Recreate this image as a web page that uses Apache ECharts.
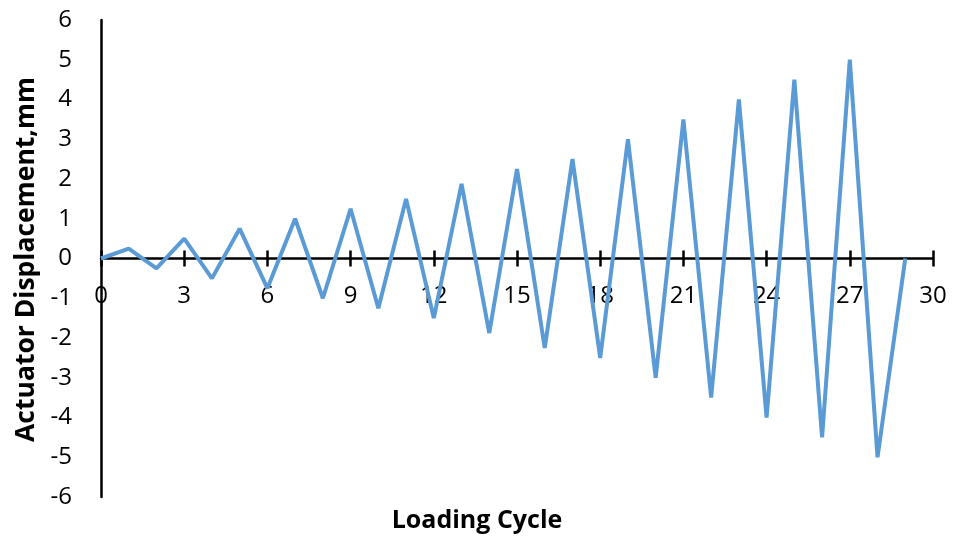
<!DOCTYPE html>
<html><head><meta charset="utf-8">
<script src="https://cdn.jsdelivr.net/npm/echarts@6/dist/echarts.min.js"></script>
<style>html,body{margin:0;padding:0;background:#fff}#c{width:954px;height:543px}</style>
</head><body><div id="c"></div>
<script>
const cycles = [0,1,2,3,4,5,6,7,8,9,10,11,12,13,14,15,16,17,18,19,20,21,22,23,24,25,26,27,28,29];
const displacement = [0,0.25,-0.25,0.5,-0.5,0.75,-0.75,1,-1,1.25,-1.25,1.5,-1.5,1.875,-1.875,2.25,-2.25,2.5,-2.5,3,-3,3.5,-3.5,4,-4,4.5,-4.5,5,-5,0];
const xTitle = 'Loading Cycle';
const yTitle = 'Actuator Displacement,mm';
const font = '"Open Sans", "Liberation Sans", sans-serif';
const G = {left: 101, right: 21, top: 20, bottom: 46};
const H = 543 - G.top - G.bottom;
const chart = echarts.init(document.getElementById('c'));
const tickStyle = {color: '#000', width: 2.5};
chart.setOption({
  animation: false,
  grid: Object.assign({containLabel: false, outerBoundsMode: 'none'}, G),
  graphic: [
    {type: 'text', left: 'center', x: 0, top: 508,
     style: {text: xTitle, font: 'bold 25px ' + font, fill: '#000'}, silent: true},
    {type: 'text', x: 26, y: 259.5, rotation: Math.PI / 2,
     style: {text: yTitle, font: 'bold 26.5px ' + font, fill: '#000', align: 'center', verticalAlign: 'middle'}, silent: true}
  ],
  xAxis: [
    {
      type: 'value', min: 0, max: 30, interval: 3, position: 'bottom', offset: -(H / 2),
      splitLine: {show: false},
      axisLine: {onZero: false, lineStyle: {color: '#000', width: 2.5}},
      axisTick: {inside: false, length: 8, lineStyle: tickStyle},
      axisLabel: {margin: 26, fontFamily: font, fontSize: 24, color: '#000', showMinLabel: true, showMaxLabel: true}
    },
    {
      type: 'value', min: 0, max: 30, interval: 3, position: 'top', offset: -(H / 2),
      splitLine: {show: false},
      axisLine: {show: false, onZero: false},
      axisTick: {show: true, inside: false, length: 8, lineStyle: tickStyle},
      axisLabel: {show: false}
    }
  ],
  yAxis: {
    type: 'value', min: -6, max: 6, interval: 1,
    splitLine: {show: false},
    axisLine: {show: true, onZero: false, lineStyle: {color: '#000', width: 2.5}},
    axisTick: {show: false},
    axisLabel: {margin: 29, fontFamily: font, fontSize: 24, color: '#000', showMinLabel: true, showMaxLabel: true}
  },
  series: [{
    type: 'line', xAxisIndex: 0,
    data: cycles.map((c, i) => [c, displacement[i]]),
    showSymbol: false, symbol: 'none',
    lineStyle: {color: '#5B9BD5', width: 4},
    z: 5
  }]
});
</script></body></html>
